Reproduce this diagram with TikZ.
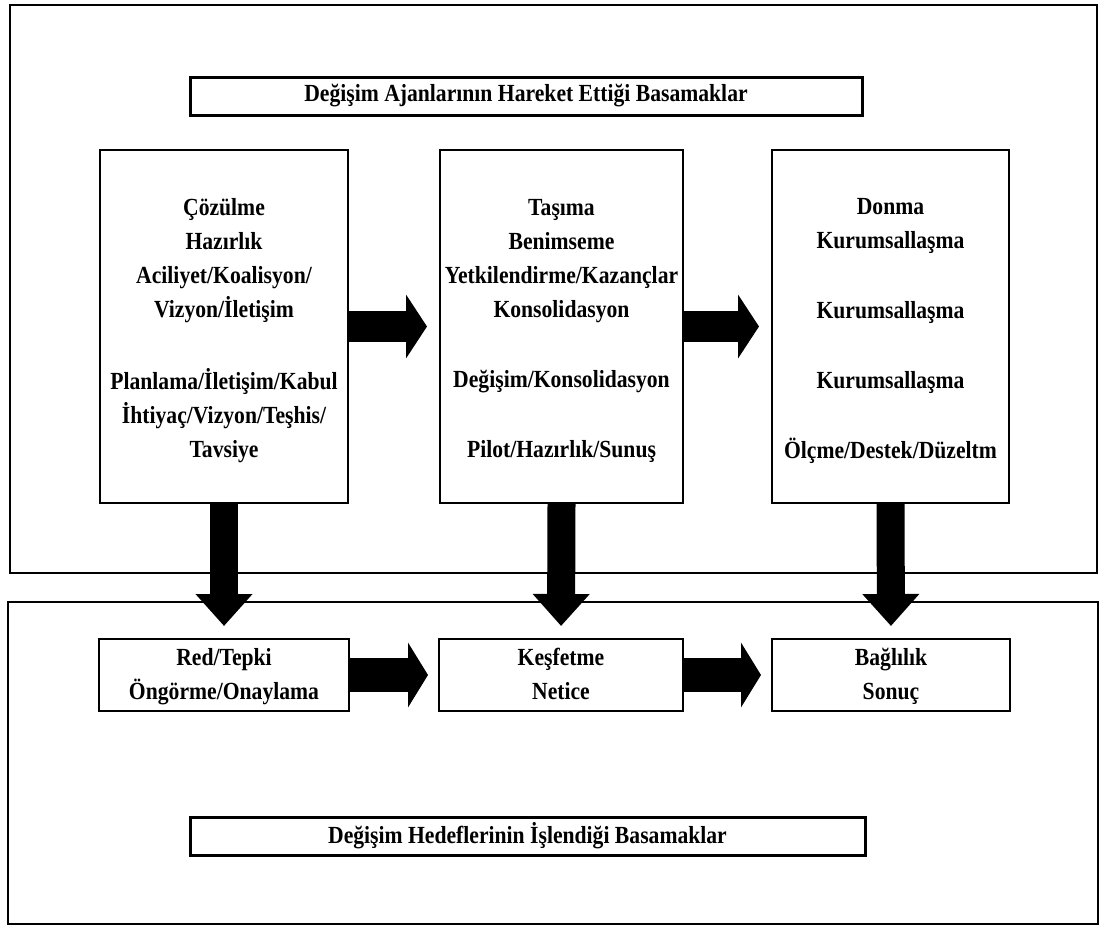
\documentclass[tikz,border=0pt]{standalone}
\usepackage{fontspec}
\setmainfont{Liberation Serif}[FakeStretch=0.88]
\usetikzlibrary{arrows.meta}
\newcommand\topst{\rule{0pt}{15pt}}
\newcommand\topsm{\rule{0pt}{13pt}}
\newcommand\botst{\rule[-5.1pt]{0pt}{0pt}}
\begin{document}
\begin{tikzpicture}[x=0.5pt,y=-0.5pt,
  txt/.style={font=\bfseries\fontsize{12.3pt}{17pt}\selectfont, align=center, inner sep=0pt},
  outerbox/.style={draw=black, line width=1.25pt},
  tallbox/.style={txt, draw=black, line width=1pt, minimum height=176.5pt},
  smallbox/.style={txt, draw=black, line width=1pt, minimum height=36pt},
  titlebox/.style={txt, draw=black, line width=1.5pt, minimum height=19pt, minimum width=336pt},
  harrow/.style={line width=15.5pt, -{Triangle[length=10.5pt, width=31.5pt]}, shorten >=6pt},
  harrowb/.style={line width=17pt, -{Triangle[length=10pt, width=32pt]}, shorten >=5pt},
  varrow/.style={line width=14pt, -{Triangle[length=16pt, width=27.5pt]}, shorten >=6pt}
]
\useasboundingbox (0,0) rectangle (1101,926);
\fill[white] (0,0) rectangle (1101,926);
% outer frames
\draw[outerbox] (10,5) rectangle (1097,573);
\draw[outerbox] (8,602) rectangle (1098,924);
% titles
\node[titlebox] (t1) at (526,96) {Değişim Ajanlarının Hareket Ettiği Basamaklar};
\node[titlebox, minimum width=337.5pt] (t2) at (527.5,836) {Değişim Hedeflerinin İşlendiği Basamaklar};
% tall boxes
\node[tallbox, minimum width=124pt] (a1) at (224,326.5) {\topst Çözülme\\Hazırlık\\Aciliyet/Koalisyon/\\Vizyon/İletişim\\[19pt]Planlama/İletişim/Kabul\\İhtiyaç/Vizyon/Teşhis/\\Tavsiye\botst};
\node[tallbox, minimum width=121.5pt] (a2) at (561.5,326.5) {\topst Taşıma\\Benimseme\\Yetkilendirme/Kazançlar\\Konsolidasyon\\[18pt]Değişim/Konsolidasyon\\[18pt]Pilot/Hazırlık/Sunuş\botst};
\node[tallbox, minimum width=118.5pt] (a3) at (890.5,326.5) {\topst Donma\\Kurumsallaşma\\[18pt]Kurumsallaşma\\[18pt]Kurumsallaşma\\[18pt]Ölçme/Destek/Düzeltm\botst};
% small boxes
\node[smallbox, minimum width=125pt] (b1) at (224,675) {\topsm Red/Tepki\\Öngörme/Onaylama\botst};
\node[smallbox, minimum width=122pt] (b2) at (561,675) {\topsm Keşfetme\\Netice\botst};
\node[smallbox, minimum width=119pt] (b3) at (891,675) {\topsm Bağlılık\\Sonuç\botst};
% arrows
\draw[harrow] (a1.east) -- (a2.west);
\draw[harrow] (a2.east) -- (a3.west);
\draw[harrowb] (b1.east) -- (b2.west);
\draw[harrowb] (b2.east) -- (b3.west);
\draw[varrow] (a1.south) -- (b1.north);
\draw[varrow] (a2.south) -- (b2.north);
\draw[varrow] (a3.south) -- (b3.north);
\end{tikzpicture}
\end{document}
